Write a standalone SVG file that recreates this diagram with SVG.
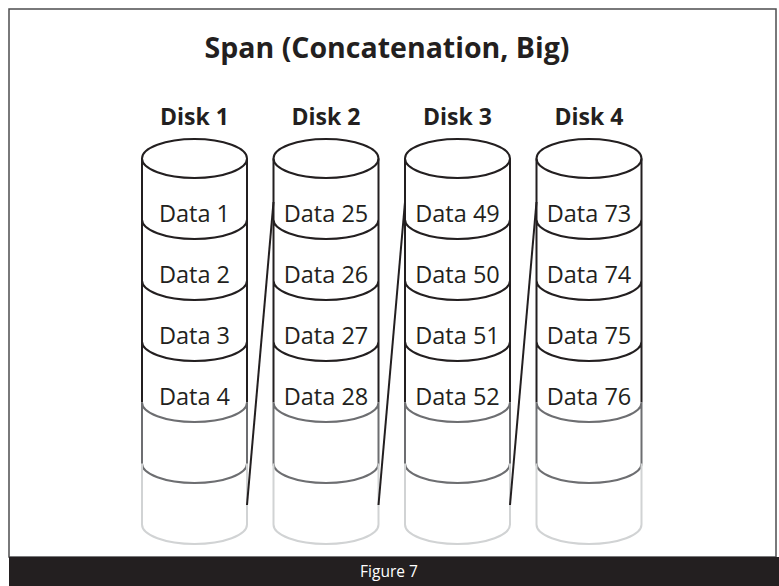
<svg xmlns="http://www.w3.org/2000/svg" xmlns:xlink="http://www.w3.org/1999/xlink" width="779" height="586" viewBox="0 0 779 586">
<style>
.t{font-family:"Open Sans","Noto Sans","Liberation Sans",sans-serif;fill:#231f20;text-anchor:middle}
.title{font-size:28.5px;font-weight:bold}
.dl{font-size:23px;font-weight:bold}
.dt{font-size:23.5px}
.blk{fill:none;stroke:#231f20;stroke-width:2}
.gry{fill:none;stroke:#6d6e71;stroke-width:2}
.lgt{fill:none;stroke:#d1d3d4;stroke-width:2}
.conn{fill:none;stroke:#231f20;stroke-width:2}
</style>
<defs>
<g id="disk">
<ellipse class="blk" cx="52.5" cy="0" rx="52.5" ry="19.5"/>
<path class="blk" d="M0,0V244M105,0V244M0,61A52.5,19.5 0 0 0 105,61M0,122A52.5,19.5 0 0 0 105,122M0,183A52.5,19.5 0 0 0 105,183"/>
<path class="gry" d="M0,244V305M105,244V305M0,244A52.5,19.5 0 0 0 105,244M0,305A52.5,19.5 0 0 0 105,305"/>
<path class="lgt" d="M0,305V366M105,305V366M0,366A52.5,19.5 0 0 0 105,366"/>
</g>
</defs>
<rect x="9" y="9" width="767" height="548" fill="#fff" stroke="#4d4d4f" stroke-width="1.5"/>
<text class="t title" x="387" y="58">Span (Concatenation, Big)</text>
<g id="disk1">
<text class="t dl" x="194.5" y="125">Disk 1</text>
<use xlink:href="#disk" transform="translate(142,158.5)"/>
<text class="t dt" x="194.5" y="222">Data 1</text>
<text class="t dt" x="194.5" y="283">Data 2</text>
<text class="t dt" x="194.5" y="344">Data 3</text>
<text class="t dt" x="194.5" y="405">Data 4</text>
</g>
<g id="disk2">
<text class="t dl" x="326" y="125">Disk 2</text>
<use xlink:href="#disk" transform="translate(273.5,158.5)"/>
<text class="t dt" x="326" y="222">Data 25</text>
<text class="t dt" x="326" y="283">Data 26</text>
<text class="t dt" x="326" y="344">Data 27</text>
<text class="t dt" x="326" y="405">Data 28</text>
</g>
<g id="disk3">
<text class="t dl" x="457.5" y="125">Disk 3</text>
<use xlink:href="#disk" transform="translate(405,158.5)"/>
<text class="t dt" x="457.5" y="222">Data 49</text>
<text class="t dt" x="457.5" y="283">Data 50</text>
<text class="t dt" x="457.5" y="344">Data 51</text>
<text class="t dt" x="457.5" y="405">Data 52</text>
</g>
<g id="disk4">
<text class="t dl" x="589" y="125">Disk 4</text>
<use xlink:href="#disk" transform="translate(536.5,158.5)"/>
<text class="t dt" x="589" y="222">Data 73</text>
<text class="t dt" x="589" y="283">Data 74</text>
<text class="t dt" x="589" y="344">Data 75</text>
<text class="t dt" x="589" y="405">Data 76</text>
</g>
<g id="connectors">
<line class="conn" x1="247" y1="505" x2="273.5" y2="202"/>
<line class="conn" x1="378.5" y1="505" x2="405" y2="202"/>
<line class="conn" x1="510" y1="505" x2="536.5" y2="202"/>
</g>
<g id="footer">
<rect x="9" y="557" width="770" height="29" fill="#231f20"/>
<text x="389" y="577" style="font-family:'Open Sans','Noto Sans',sans-serif;font-size:15.5px;fill:#fff;text-anchor:middle">Figure 7</text>
</g>
</svg>
